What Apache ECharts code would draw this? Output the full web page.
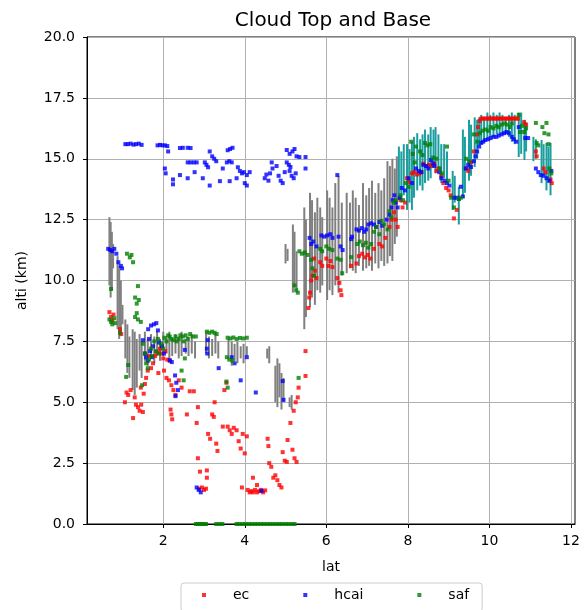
<!DOCTYPE html>
<html>
<head>
<meta charset="utf-8">
<script src="https://cdn.jsdelivr.net/npm/echarts@6/dist/echarts.min.js"></script>
<style>
html, body { margin: 0; padding: 0; background: #fff; }
#chart { width: 588px; height: 610px; }
</style>
</head>
<body>
<div id="chart"></div>
<script>
// [lat, alti] points
const ecPoints = [
  [0.68,8.7],[0.72,8.5],[0.75,8.35],[0.78,8.6],[0.94,8.0],[0.97,7.8],
  [1.06,5.0],[1.1,5.4],[1.14,5.3],[1.2,5.5],[1.26,4.35],[1.3,5.2],[1.33,4.9],[1.38,4.8],[1.42,4.65],[1.46,4.9],[1.5,4.6],
  [1.45,5.6],[1.52,5.35],[1.55,5.75],[1.58,6.0],[1.62,6.3],[1.65,6.9],[1.7,6.4],[1.75,6.6],[1.8,6.9],[1.85,7.05],[1.88,6.2],
  [1.92,7.2],[1.96,7.0],[2.0,6.8],[2.05,7.1],[2.1,6.75],[2.16,6.7],[2.02,6.3],[2.08,6.0],[2.14,5.9],[2.2,5.7],[2.25,5.5],
  [2.3,5.3],[2.18,4.7],[2.22,4.3],[2.2,4.5],[2.38,5.9],[2.45,5.6],[2.58,4.5],[2.65,5.45],[2.75,5.45],[2.82,4.15],[2.85,4.8],
  [2.85,2.7],[2.9,2.15],[2.88,1.45],[2.95,1.5],[3.0,1.4],[3.05,1.45],[3.07,2.2],[3.07,1.9],[3.1,3.7],[3.15,3.5],[3.2,4.5],
  [3.24,4.4],[3.26,5.0],[3.3,3.3],[3.33,3.0],[3.46,4.0],[3.5,5.5],[3.55,5.8],[3.58,4.0],[3.63,3.85],[3.68,3.7],[3.73,3.95],
  [3.8,3.85],[3.85,3.4],[3.9,3.1],[3.95,3.7],[4.0,2.9],[4.05,3.6],[3.93,1.5],[4.07,1.4],[4.12,1.3],[4.16,1.35],[4.2,1.3],
  [4.25,1.4],[4.3,1.3],[4.35,1.35],[4.4,1.4],[4.45,1.3],[4.5,1.38],[4.2,1.9],[4.3,1.6],[4.56,3.5],[4.58,3.2],[4.6,2.5],
  [4.65,2.35],[4.7,1.9],[4.75,2.0],[4.8,1.8],[4.85,1.6],[4.9,1.5],[4.93,2.95],[4.98,2.6],[5.03,2.55],[5.05,3.45],[5.12,4.15],
  [5.17,3.05],[5.22,2.7],[5.27,2.55],[5.2,4.65],[5.25,5.0],[5.3,5.2],[5.32,5.6],[5.49,7.1],[5.49,6.08],[5.56,8.87],[5.58,9.3],
  [5.6,9.5],[5.63,10.0],[5.66,10.2],[5.72,10.4],[5.76,10.1],[5.7,10.9],[5.85,10.75],[5.9,10.6],[6.0,10.9],[6.05,10.6],
  [6.1,10.8],[6.15,10.55],[6.27,10.1],[6.32,9.9],[6.35,9.6],[6.37,9.4],[6.61,10.6],[6.74,10.7],[6.8,11.0],[6.88,11.1],
  [6.95,10.95],[7.02,11.05],[7.08,10.9],[7.17,11.3],[7.3,11.5],[7.37,11.4],[7.45,11.75],[7.55,12.2],[7.6,12.5],[7.66,12.8],
  [7.7,12.5],[7.75,12.2],[7.82,13.3],[7.87,13.0],[7.93,13.2],[7.98,14.2],[8.03,14.05],[8.1,14.4],[8.16,14.45],[8.22,14.35],
  [8.28,14.4],[8.33,14.45],[8.38,14.8],[8.45,14.7],[8.52,14.75],[8.58,14.7],[8.65,14.8],[8.7,14.5],[8.75,14.6],[8.82,14.3],
  [8.87,14.0],[8.94,13.8],[9.0,13.7],[9.05,13.5],[9.13,12.55],[9.2,12.9],[9.43,14.6],[9.48,14.5],[9.55,14.85],[9.62,15.3],
  [9.7,16.0],[9.72,16.3],[9.76,16.55],[9.8,16.65],[9.85,16.65],[9.9,16.65],[9.95,16.65],[10.0,16.65],[10.05,16.65],
  [10.1,16.65],[10.15,16.65],[10.2,16.65],[10.25,16.65],[10.3,16.65],[10.35,16.65],[10.4,16.65],[10.45,16.65],[10.5,16.65],
  [10.55,16.65],[10.6,16.65],[10.65,16.65],[10.7,16.65],[10.85,16.5],[10.9,16.4],[11.14,15.3],[11.16,15.1],[11.33,14.6],
  [11.38,14.45],[11.5,14.15],[11.53,14.0]
];

const hcaiPoints = [
  [0.65,11.3],[0.7,11.25],[0.75,11.2],[0.8,11.3],[0.85,11.1],[0.9,10.75],[0.96,10.6],[0.99,10.5],
  [1.5,7.55],[1.55,7.0],[1.58,6.85],[1.62,6.7],[1.65,7.6],[1.68,7.1],[1.72,6.85],[1.75,7.3],[1.63,8.0],[1.7,8.15],
  [1.77,8.2],[1.83,8.25],[1.87,7.95],[1.9,7.45],[1.97,7.3],[2.02,7.0],[2.16,6.73],[2.21,6.65],[2.29,6.1],[2.32,5.8],
  [2.36,5.5],[2.3,5.25],[2.53,7.15],[3.09,7.55],[3.07,7.2],[3.08,7.0],[3.36,6.4],[3.68,6.85],[3.75,6.6],[3.9,5.9],
  [4.05,6.85],[4.27,5.4],[4.93,5.87],[4.95,5.1],[2.82,1.5],[2.87,1.4],[2.92,1.3],[4.41,1.36],
  [1.07,15.6],[1.13,15.6],[1.2,15.62],[1.27,15.58],[1.33,15.6],[1.4,15.62],[1.47,15.57],[1.86,15.55],[1.92,15.57],
  [1.98,15.55],[2.04,15.55],[2.1,15.52],[2.12,15.3],[2.41,15.44],[2.48,15.45],[2.6,15.45],[2.67,15.44],[3.14,15.3],
  [3.2,15.1],[3.25,15.0],[3.3,14.9],[3.58,15.35],[3.64,15.4],[3.7,15.45],[2.04,14.6],[2.06,14.4],[2.24,14.15],
  [2.24,13.95],[2.41,14.33],[2.6,14.2],[2.6,14.85],[2.67,14.85],[2.75,14.85],[2.82,14.85],[2.77,14.45],[2.97,14.2],
  [3.02,14.85],[3.06,14.75],[3.1,14.65],[3.14,13.9],[3.39,14.08],[3.46,14.6],[3.56,14.85],[3.62,14.9],[3.68,14.85],
  [3.63,14.08],[3.8,14.2],[3.83,14.65],[3.88,14.5],[3.93,14.4],[3.98,14.45],[4.05,14.33],[4.0,14.0],[4.05,13.9],
  [4.12,14.45],[4.49,14.2],[4.53,14.35],[4.58,14.1],[4.62,14.4],[4.66,14.85],[4.68,14.6],[4.78,14.7],[4.83,14.3],
  [4.88,14.1],[4.93,14.0],[4.98,14.45],[5.03,14.85],[5.08,14.75],[5.12,14.66],[5.1,14.5],[5.15,14.3],[5.2,14.2],
  [5.25,14.4],[5.03,15.36],[5.1,15.2],[5.17,15.3],[5.22,15.4],[5.27,15.1],[5.34,15.07],[5.49,15.07],[5.49,14.6],[6.27,14.33],
  [5.59,11.75],[5.63,11.5],[5.68,11.6],[5.76,11.4],[5.88,11.85],[5.95,11.8],[6.02,11.85],[6.1,11.9],[6.15,11.75],
  [6.3,11.8],[6.35,11.4],[6.4,11.25],[6.61,11.7],[6.63,11.8],[6.74,12.1],[6.8,12.05],[6.87,12.15],[6.93,12.0],
  [6.98,12.1],[7.03,12.3],[7.1,12.35],[7.17,12.3],[7.22,12.2],[7.3,12.4],[7.37,12.25],[7.48,12.5],[7.55,12.7],
  [7.6,13.0],[7.63,13.3],[7.67,13.5],[7.7,13.2],[7.75,13.0],[7.8,13.4],[7.85,13.8],[7.93,13.7],[8.02,14.2],[8.1,14.0],
  [8.2,14.6],[8.27,14.5],[8.33,14.45],[8.38,14.75],[8.45,14.7],[8.5,14.6],[8.57,14.95],[8.62,14.8],[8.65,14.7],
  [8.77,14.45],[8.82,14.2],[8.9,14.1],[8.96,14.0],[9.02,13.9],[9.13,13.4],[9.2,13.4],[9.25,13.35],[9.3,13.85],
  [9.35,13.45],[9.42,14.6],[9.48,14.75],[9.55,14.66],[9.62,14.9],[9.66,15.1],[9.7,15.3],[9.75,15.5],[9.8,15.65],
  [9.85,15.7],[9.9,15.77],[9.97,15.8],[10.03,15.85],[10.1,15.9],[10.17,15.9],[10.23,15.95],[10.3,16.0],[10.36,16.05],
  [10.42,16.1],[10.48,16.05],[10.55,15.9],[10.6,15.8],[10.66,15.7],[10.72,16.3],[10.88,15.85],[10.95,15.85],
  [11.14,14.6],[11.2,14.45],[11.26,14.33],[11.33,14.3],[11.4,14.2],[11.47,14.1],[11.52,14.5]
];

const safPoints = [
  [0.68,8.4],[0.72,8.3],[0.75,8.2],[0.8,8.45],[0.82,8.25],[0.72,9.65],[0.94,7.85],[1.11,11.1],[1.18,10.95],[1.26,10.75],
  [1.22,11.05],[1.38,9.77],[1.31,9.3],[1.4,9.2],[1.35,9.05],[1.35,8.66],[1.31,8.5],[1.38,8.4],[1.45,8.3],[1.14,6.53],
  [1.09,6.04],[1.48,5.7],[1.5,7.4],[1.55,7.0],[1.58,6.6],[1.62,6.4],[1.65,6.75],[1.7,7.2],[1.72,6.9],[1.78,7.5],
  [1.82,7.1],[1.87,7.6],[1.9,7.0],[1.95,7.4],[2.0,7.2],[2.03,7.65],[2.08,7.5],[2.12,7.75],[2.16,7.7],[2.2,7.6],
  [2.25,7.55],[2.3,7.7],[2.33,7.5],[2.38,7.6],[2.42,7.75],[2.48,7.7],[2.5,7.5],[2.55,7.75],[2.6,7.6],[2.66,7.8],
  [2.72,7.7],[2.8,7.7],[2.53,6.8],[2.45,6.3],[2.5,5.9],[3.07,7.9],[3.13,7.85],[3.2,7.9],[3.26,7.85],[3.31,7.8],
  [3.58,7.65],[3.65,7.62],[3.72,7.66],[3.8,7.6],[3.88,7.64],[3.96,7.62],[4.05,7.65],[3.56,6.85],[3.62,6.75],[3.7,6.7],
  [3.58,5.6],[3.55,5.85],[5.32,6.0],
  [2.8,0],[2.85,0],[2.9,0],[2.95,0],[3.0,0],[3.05,0],[3.3,0],[3.38,0],[3.45,0],[3.8,0],[3.87,0],[3.95,0],[4.02,0],
  [4.1,0],[4.17,0],[4.25,0],[4.32,0],[4.4,0],[4.47,0],[4.55,0],[4.62,0],[4.7,0],[4.78,0],[4.85,0],[4.92,0],[5.0,0],
  [5.07,0],[5.15,0],[5.22,0],
  [5.22,9.8],[5.26,9.6],[5.3,9.5],[5.34,11.2],[5.4,11.1],[5.47,11.15],[5.54,11.05],[5.63,10.85],[5.66,10.5],[5.7,10.2],
  [5.85,11.3],[5.9,11.2],[6.0,11.4],[6.07,11.3],[6.15,11.25],[6.27,10.9],[6.35,10.85],[6.39,10.3],[6.61,10.96],
  [6.76,11.5],[6.82,11.6],[6.9,11.45],[6.97,11.55],[7.03,11.35],[7.1,11.5],[7.17,12.0],[7.22,12.2],[7.3,11.9],
  [7.35,12.45],[7.42,12.3],[7.5,12.1],[7.55,12.85],[7.6,12.6],[7.65,13.2],[7.7,13.3],
  [7.82,13.5],[7.88,13.3],[7.95,14.0],[8.02,13.85],[8.08,15.7],[8.12,15.2],[8.17,14.85],[8.2,15.5],[8.3,15.3],
  [8.36,15.15],[8.42,15.65],[8.48,15.55],[8.55,15.6],[8.62,15.05],[8.7,15.0],[8.78,14.6],[8.83,14.4],[8.96,15.5],
  [9.0,14.1],[9.06,13.4],[9.13,13.0],[9.25,13.35],[9.3,13.4],[9.43,15.0],[9.5,14.9],[9.62,16.0],[9.7,15.7],
  [9.77,16.05],[9.83,16.15],[9.9,16.2],[9.97,16.15],[10.03,16.3],[10.1,16.25],[10.17,16.35],[10.23,16.3],[10.3,16.4],
  [10.37,16.45],[10.43,16.4],[10.5,16.3],[10.55,16.45],[10.72,16.8],[10.75,16.1],[10.8,16.35],[10.85,16.1],[10.9,16.25],
  [11.14,16.47],[11.16,15.65],[11.2,15.55],[11.3,16.3],[11.35,16.05],[11.4,16.47],[11.45,16.0],[11.45,15.6],
  [11.47,14.6],[11.52,14.4]
];

// [lat, base, top] vertical ranges
const grayBars = [
  [0.68,9.8,12.6],[0.71,9.3,12.4],[0.74,9.6,12.0],[0.77,10.5,11.5],[0.88,8.0,11.0],[0.92,7.6,10.6],[0.96,7.9,10.0],
  [1.0,8.2,9.0],[1.07,6.8,8.4],[1.12,6.2,8.2],[1.17,6.0,7.7],[1.25,5.5,8.0],[1.3,5.3,7.9],[1.35,5.6,7.6],[1.42,6.3,7.8],
  [1.47,6.0,7.5],[1.55,6.7,7.9],[1.62,6.5,7.6],[1.7,6.8,7.8],[1.78,6.6,7.7],[1.85,6.9,7.9],[1.92,6.7,7.6],[2.0,6.9,7.9],
  [2.08,7.0,7.7],[2.15,6.8,7.9],[2.22,6.9,7.6],[2.3,7.0,7.8],[2.38,6.8,7.7],[2.45,6.9,7.9],[2.55,7.0,7.6],[2.62,6.9,7.7],
  [2.7,7.0,7.8],[2.78,6.8,7.5],[3.05,7.0,7.9],[3.12,6.8,7.7],[3.2,6.9,7.6],[3.28,7.0,7.8],[3.35,6.8,7.5],[3.6,6.8,7.6],
  [3.68,6.5,7.5],[3.75,6.7,7.4],[3.82,6.6,7.5],[3.9,6.8,7.3],[3.97,6.6,7.4],[4.05,6.9,7.3],[4.55,6.8,7.2],[4.6,6.6,7.3],
  [4.75,5.0,6.5],[4.8,4.8,6.8],[4.85,5.2,6.6],[4.9,4.7,6.2],[4.95,5.0,6.0],[5.1,4.8,5.2],[5.15,4.7,5.3],
  [5.0,10.7,11.5],[5.05,10.8,11.3],[5.18,9.5,12.3],[5.22,9.7,12.0],[5.27,9.6,11.2],[5.46,8.0,13.0],[5.5,8.5,12.5],
  [5.6,8.9,13.6],[5.65,9.3,13.3],[5.72,9.0,12.8],[5.78,9.6,13.4],[5.85,9.5,13.0],[5.9,9.8,12.6],[6.02,9.2,13.7],
  [6.08,9.6,13.4],[6.15,9.4,13.0],[6.22,9.8,14.0],[6.3,9.5,14.3],[6.38,10.2,13.2],[6.5,10.3,13.6],[6.58,10.5,13.2],
  [6.65,10.4,13.7],[6.72,10.3,13.4],[6.8,10.6,13.1],[6.9,10.4,14.0],[6.98,10.5,13.5],[7.05,10.6,13.8],[7.12,10.4,14.1],
  [7.2,10.7,13.6],[7.28,10.5,14.0],[7.35,10.8,13.7],[7.42,10.6,14.2],[7.5,10.7,14.9],[7.56,11.0,14.7],[7.62,10.8,15.0],
  [7.68,11.5,14.6],[7.73,11.8,15.1]
];

const tealBars = [
  [7.78,13.3,15.5],[7.84,13.2,15.3],[7.9,13.5,15.6],[7.98,12.9,15.6],[8.04,13.2,15.4],[8.1,12.9,15.7],[8.15,13.4,15.9],
  [8.23,13.7,16.05],[8.3,13.9,15.8],[8.36,13.7,16.0],[8.42,14.0,16.2],[8.5,14.1,16.0],[8.56,14.2,16.3],[8.63,14.66,16.2],
  [8.68,14.4,16.3],[8.75,14.6,16.0],[8.82,14.0,15.6],[8.89,14.2,15.6],[8.96,14.0,15.3],[9.1,12.9,14.5],[9.15,13.2,14.3],
  [9.25,12.3,13.85],[9.35,13.4,16.2],[9.4,13.6,15.9],[9.5,14.1,16.6],[9.55,14.3,16.4],[9.64,14.66,16.7],[9.7,15.0,16.6],
  [9.75,15.56,16.7],[9.8,15.6,16.8],[9.87,15.7,16.7],[9.95,15.8,16.9],[10.02,15.9,16.8],[10.1,15.9,16.9],[10.18,16.0,16.8],
  [10.25,16.0,16.9],[10.32,16.0,16.8],[10.4,16.0,16.7],[10.48,15.9,16.8],[10.55,15.7,16.9],[10.62,15.6,16.8],
  [10.72,15.07,16.9],[10.78,15.2,16.9],[10.86,14.95,16.6],[10.9,15.3,16.5],[11.08,14.9,15.9],[11.14,15.0,15.8],
  [11.28,14.0,15.77],[11.33,14.3,15.6],[11.4,13.7,15.65],[11.45,14.0,15.5],[11.5,13.5,15.65]
];

const xTicks = [2, 4, 6, 8, 10, 12];

const chart = echarts.init(document.getElementById('chart'), null, { renderer: 'canvas' });

const font = 'DejaVu Sans';

// draws one vertical segment from base to top
const renderBar = (params, api) => {
  const top = api.coord([api.value(0), api.value(2)]);
  const base = api.coord([api.value(0), api.value(1)]);
  return {
    type: 'line',
    shape: { x1: top[0], y1: top[1], x2: base[0], y2: base[1] },
    style: { stroke: api.visual('color'), lineWidth: 2, opacity: api.visual('opacity') }
  };
};

const scatter = (name, data, color) => ({
  name: name,
  type: 'scatter',
  data: data,
  symbol: 'rect',
  symbolSize: 4,
  itemStyle: { color: color },
  z: 3
});

const option = {
  backgroundColor: '#fff',
  animation: false,
  textStyle: { fontFamily: font },
  title: {
    text: 'Cloud Top and Base',
    left: 328,
    top: 6,
    textAlign: 'center',
    textStyle: { fontFamily: font, fontSize: 20, fontWeight: 'normal', color: '#000' }
  },
  grid: {
    left: 87, top: 37, right: 13, bottom: 86,
    show: true, borderColor: '#000', borderWidth: 1
  },
  legend: {
    data: ['ec', 'hcai', 'saf'],
    left: 181,
    top: 583,
    padding: [5, 13, 10, 21],
    itemGap: 54,
    itemWidth: 4,
    itemHeight: 4,
    icon: 'rect',
    borderColor: '#ccc',
    borderWidth: 1,
    borderRadius: 3,
    textStyle: { fontFamily: font, fontSize: 14, color: '#000', padding: [0, 0, 0, 22] }
  },
  xAxis: {
    type: 'value',
    min: 0.13,
    max: 12.1,
    name: 'lat',
    nameLocation: 'middle',
    nameGap: 36,
    nameTextStyle: { fontFamily: font, fontSize: 14, color: '#000' },
    axisLine: { lineStyle: { color: '#000', width: 1 } },
    axisTick: { show: true, length: 4, customValues: xTicks, lineStyle: { color: '#000' } },
    axisLabel: { customValues: xTicks, margin: 10, fontFamily: font, fontSize: 14, color: '#000' },
    splitLine: { show: true, lineStyle: { color: '#b0b0b0', width: 1 } }
  },
  yAxis: {
    type: 'value',
    min: 0,
    max: 20,
    interval: 2.5,
    name: 'alti (km)',
    nameLocation: 'middle',
    nameGap: 58,
    nameTextStyle: { fontFamily: font, fontSize: 14, color: '#000' },
    axisLine: { show: true, lineStyle: { color: '#000', width: 1 } },
    axisTick: { show: true, length: 4, lineStyle: { color: '#000' } },
    axisLabel: {
      margin: 12, fontFamily: font, fontSize: 14, color: '#000',
      formatter: v => v.toFixed(1)
    },
    splitLine: { show: true, lineStyle: { color: '#b0b0b0', width: 1 } }
  },
  series: [
    {
      name: 'grayBars',
      type: 'custom',
      data: grayBars,
      encode: { x: 0, y: [1, 2] },
      renderItem: renderBar,
      itemStyle: { color: '#808080', opacity: 0.55 },
      z: 2
    },
    {
      name: 'tealBars',
      type: 'custom',
      data: tealBars,
      encode: { x: 0, y: [1, 2] },
      renderItem: renderBar,
      itemStyle: { color: '#1a9e9e', opacity: 0.7 },
      z: 2
    },
    scatter('ec', ecPoints, '#ff0000'),
    scatter('hcai', hcaiPoints, '#0000ff'),
    scatter('saf', safPoints, '#008000')
  ]
};

chart.setOption(option);
</script>
</body>
</html>
